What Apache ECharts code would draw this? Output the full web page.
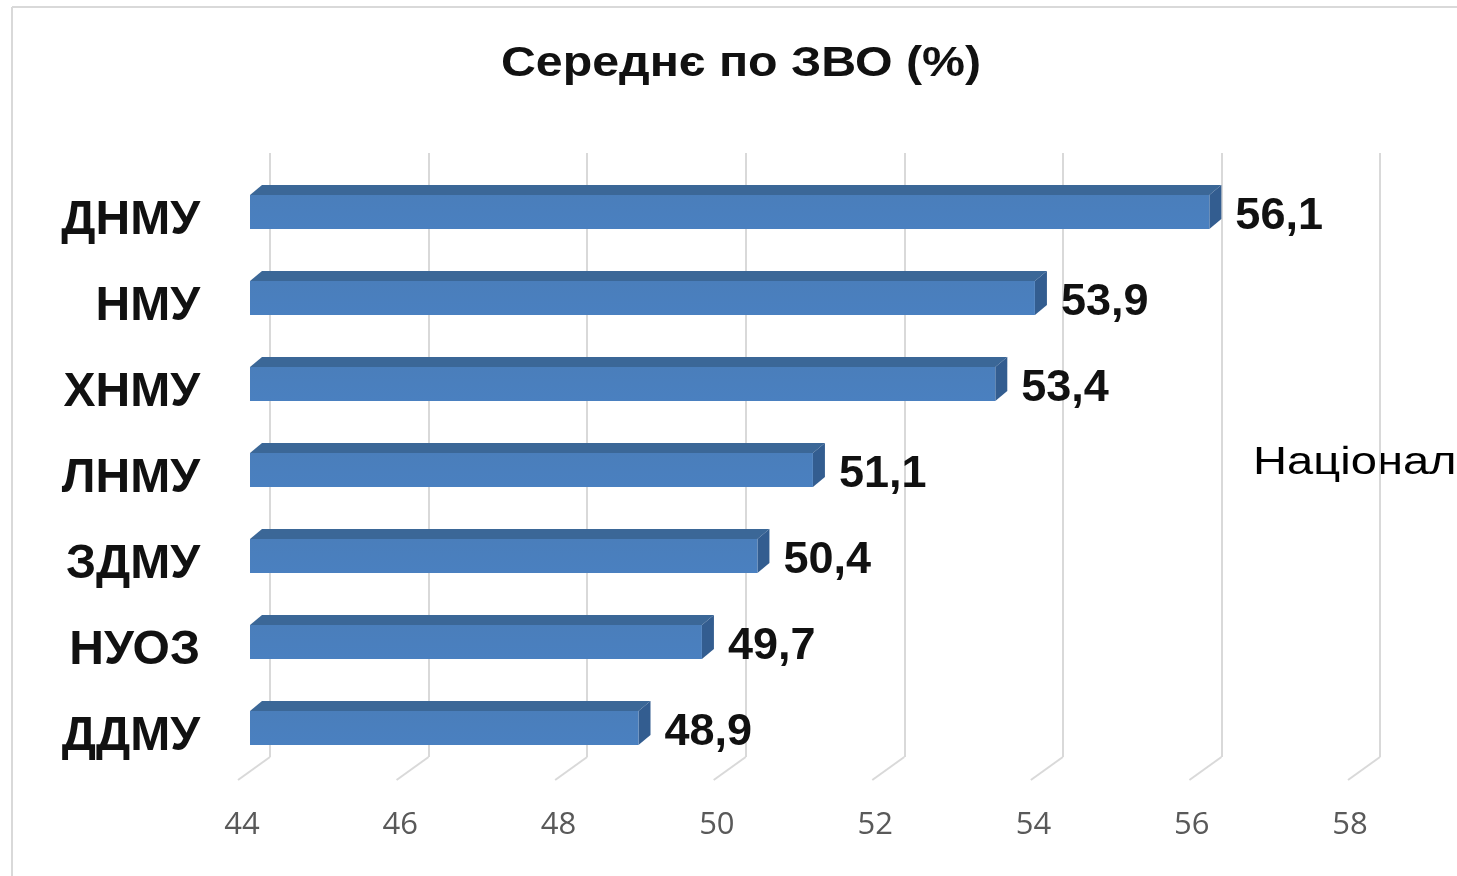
<!DOCTYPE html>
<html>
<head>
<meta charset="utf-8">
<script src="https://cdn.jsdelivr.net/npm/echarts@6/dist/echarts.min.js"></script>
<style>html,body{margin:0;padding:0;background:#fff}#c{width:1457px;height:876px}</style>
</head>
<body>
<div id="c"></div>
<script>
const title = 'Середнє по ЗВО (%)';
const categories = ['ДНМУ', 'НМУ', 'ХНМУ', 'ЛНМУ', 'ЗДМУ', 'НУОЗ', 'ДДМУ'];
const values = [56.1, 53.9, 53.4, 51.1, 50.4, 49.7, 48.9];
const tickValues = [44, 46, 48, 50, 52, 54, 56, 58];
const sideText = 'Національний';

const FONT = '"Liberation Sans", Arial, sans-serif';
const chart = echarts.init(document.getElementById('c'), null, {renderer: 'canvas'});

function fmt(v) { return v.toFixed(1).replace('.', ','); }

const option = {
  animation: false,
  backgroundColor: '#ffffff',
  graphic: [
    {type: 'line', shape: {x1: 12, y1: 7, x2: 1457, y2: 7}, style: {stroke: '#d9d9d9', lineWidth: 2}},
    {type: 'line', shape: {x1: 12, y1: 7, x2: 12, y2: 876}, style: {stroke: '#d9d9d9', lineWidth: 2}},
    {type: 'text', x: 741, y: 64, scaleX: 1.15,
     style: {text: title, font: 'bold 42px ' + FONT, fill: '#111', align: 'center', verticalAlign: 'middle'}},
    {type: 'text', x: 1253, y: 464, scaleX: 1.24,
     style: {text: sideText, font: '38px ' + FONT, fill: '#000', align: 'left', verticalAlign: 'middle'}}
  ],
  grid: [
    {left: 270, width: 1110, top: 153, height: 604},
    {left: 242, width: 1108, top: 160, height: 620},
    {left: 250, width: 1110, top: 166, height: 602}
  ],
  xAxis: [
    {gridIndex: 0, type: 'value', min: 44, max: 58, interval: 2,
     axisLine: {show: false}, axisTick: {show: false}, axisLabel: {show: false},
     splitLine: {show: true, lineStyle: {color: '#d9d9d9', width: 2}}},
    {gridIndex: 1, type: 'value', min: 44, max: 58, interval: 2,
     axisLine: {show: false}, axisTick: {show: false}, splitLine: {show: false},
     axisLabel: {show: true, margin: 30, fontFamily: '"Open Sans", sans-serif', fontSize: 31, color: '#595959'}},
    {gridIndex: 2, type: 'value', min: 44, max: 58, interval: 2, show: false}
  ],
  yAxis: [
    {gridIndex: 0, type: 'value', min: 0, max: 1, show: false},
    {gridIndex: 1, type: 'value', min: 0, max: 1, show: false},
    {gridIndex: 2, type: 'category', data: categories, inverse: true,
     axisLine: {show: false}, axisTick: {show: false}, splitLine: {show: false},
     axisLabel: {margin: 50, verticalAlign: 'top', lineHeight: 24, fontFamily: FONT, fontSize: 48, fontWeight: 'bold', color: '#111'}}
  ],
  series: [
    {
      type: 'custom', xAxisIndex: 0, yAxisIndex: 0, silent: true,
      data: tickValues.map(v => [v, 0]),
      renderItem: function (params, api) {
        const p = api.coord([api.value(0), 0]);
        return {type: 'line', shape: {x1: p[0], y1: p[1], x2: p[0] - 32, y2: p[1] + 23},
                style: {stroke: '#d9d9d9', lineWidth: 2}};
      }
    },
    {
      type: 'custom', xAxisIndex: 2, yAxisIndex: 2, silent: true,
      data: values.map((v, i) => [v, i]),
      renderItem: function (params, api) {
        const v = api.value(0);
        const s = api.coord([44, api.value(1)]);
        const e = api.coord([v, api.value(1)]);
        const c = s[1];
        const dx = 12, dy = 10;
        const top = c - 14, bot = c + 20;
        const x0 = s[0], x1 = e[0];
        return {
          type: 'group',
          children: [
            {type: 'polygon', shape: {points: [[x0, top], [x0 + dx, top - dy], [x1 + dx, top - dy], [x1, top]]},
             style: {fill: '#3b6797'}},
            {type: 'polygon', shape: {points: [[x1, top], [x1 + dx, top - dy], [x1 + dx, bot - dy], [x1, bot]]},
             style: {fill: '#335d90'}},
            {type: 'rect', shape: {x: x0, y: top, width: x1 - x0, height: bot - top},
             style: {fill: new echarts.graphic.LinearGradient(0, 0, 0, 1, [
               {offset: 0, color: '#4a7ebb'}, {offset: 1, color: '#4a80c0'}])}},
            {type: 'text', x: x1 + dx + 14, y: c + 8,
             style: {text: fmt(v), font: 'bold 45px ' + FONT, fill: '#111', align: 'left', verticalAlign: 'middle'}}
          ]
        };
      }
    }
  ]
};
chart.setOption(option);
</script>
</body>
</html>
